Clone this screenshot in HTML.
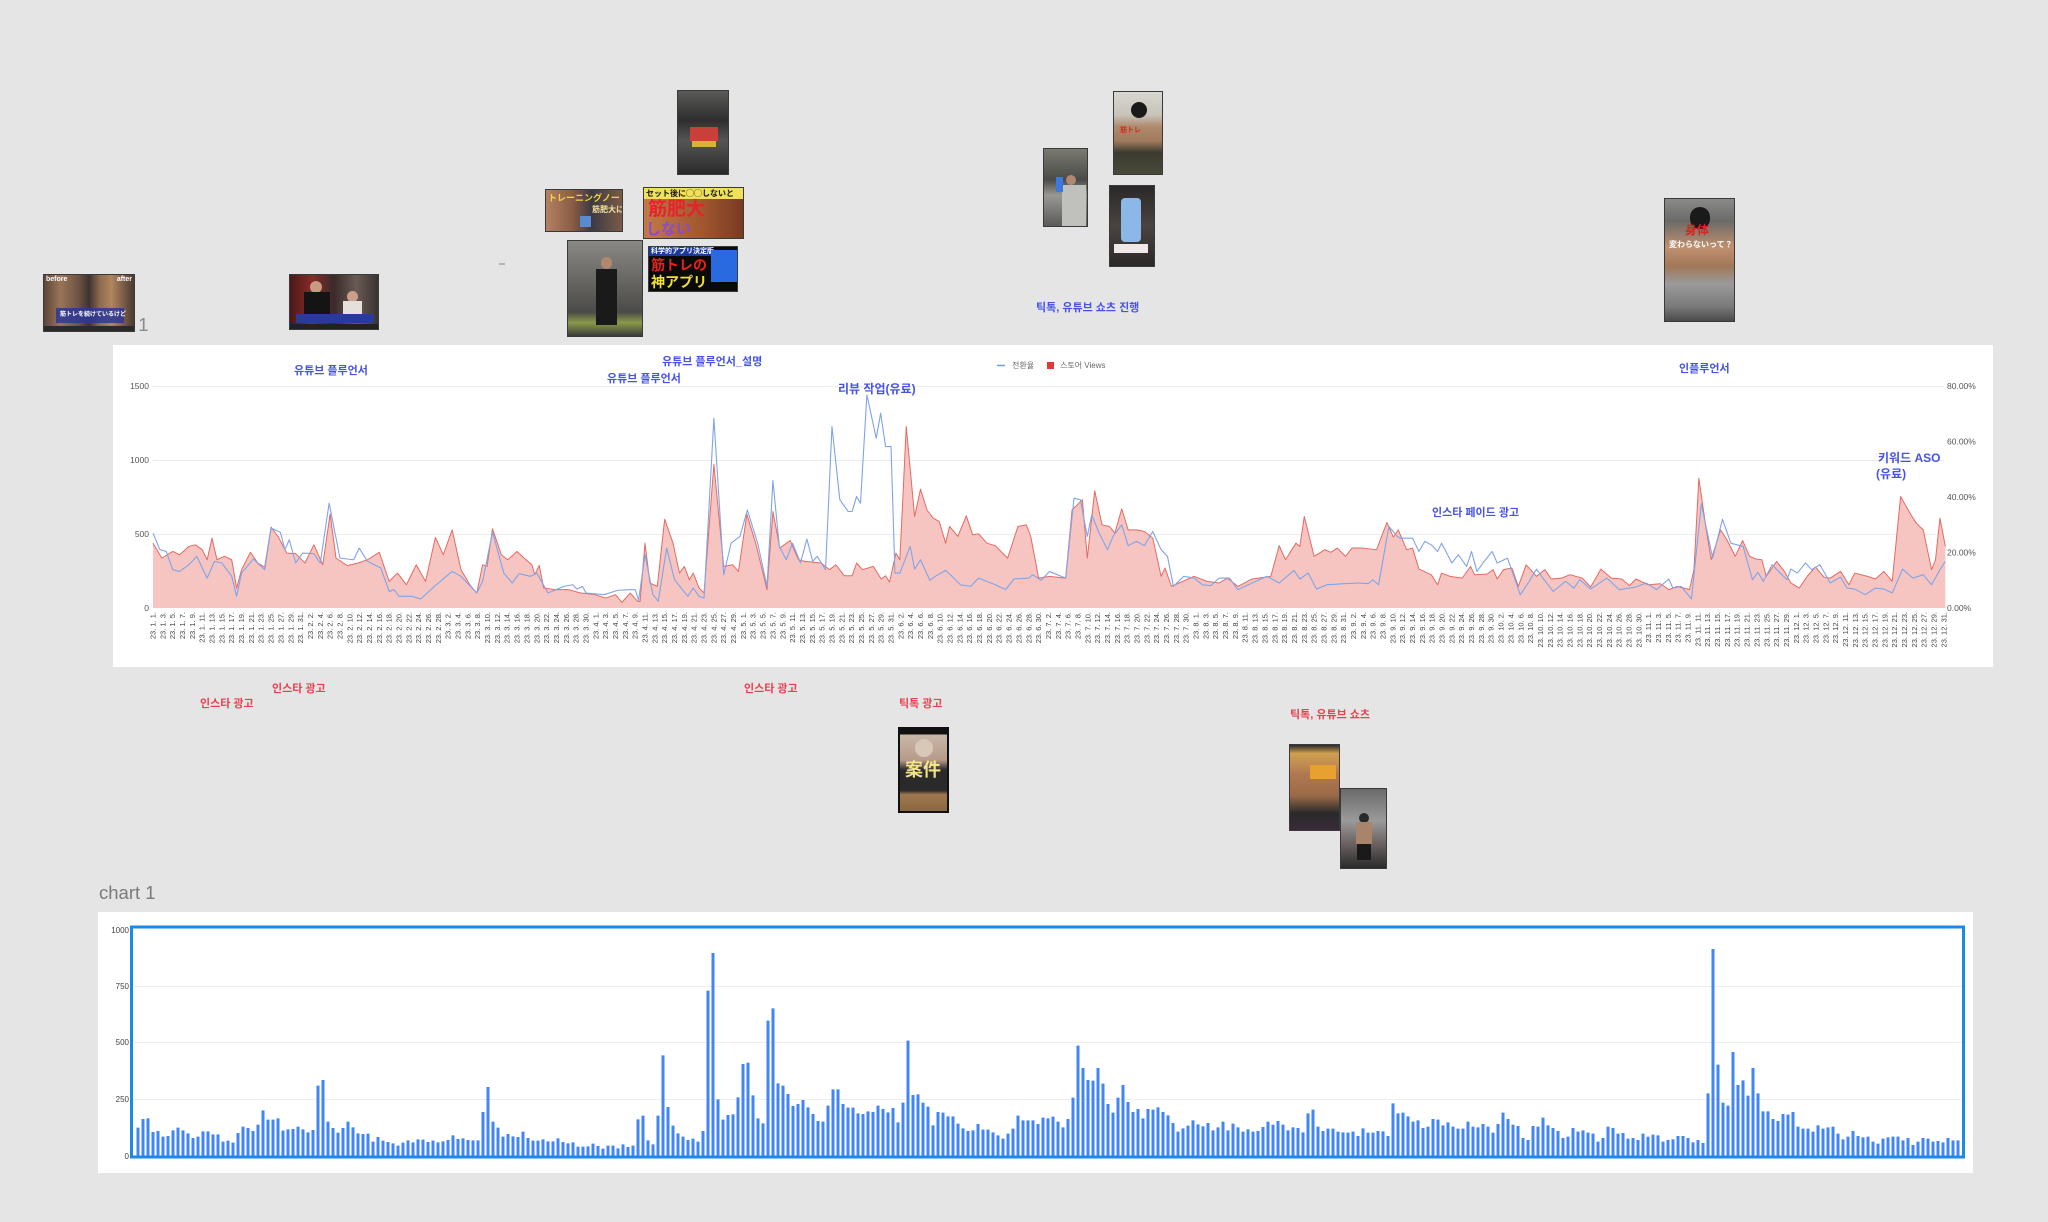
<!DOCTYPE html>
<html><head><meta charset="utf-8">
<style>
html,body{margin:0;padding:0;}
body{width:2048px;height:1222px;background:#e5e5e5;position:relative;overflow:hidden;font-family:"Liberation Sans","Noto Sans CJK KR",sans-serif;}
.a{position:absolute;white-space:nowrap;}
.b{position:absolute;white-space:nowrap;color:#4553e6;font-weight:700;font-size:11px;line-height:14px;}
.r{position:absolute;white-space:nowrap;color:#ea4050;font-weight:700;font-size:11px;line-height:14px;}
.th{position:absolute;overflow:hidden;border:1px solid #3a3a3a;box-sizing:border-box;}
.th div{position:absolute;white-space:nowrap;}
.jp{font-family:"Liberation Sans","Noto Sans CJK JP",sans-serif;font-weight:700;}
svg{position:absolute;left:0;top:0;}
</style></head><body>
<svg width="2048" height="1222" viewBox="0 0 2048 1222" xmlns="http://www.w3.org/2000/svg" font-family="Liberation Sans, Noto Sans CJK KR, sans-serif">
<!-- top chart panel -->
<rect x="113" y="345" width="1880" height="322" fill="#ffffff"/>
<g stroke="#ececec" stroke-width="1">
<line x1="153" y1="386.5" x2="1944" y2="386.5"/>
<line x1="153" y1="460.5" x2="1944" y2="460.5"/>
<line x1="153" y1="534.5" x2="1944" y2="534.5"/>
</g>
<g font-size="8.5" fill="#555" text-anchor="end">
<text x="149" y="389">1500</text><text x="149" y="463">1000</text><text x="149" y="537">500</text><text x="149" y="611">0</text>
</g>
<g font-size="8.5" fill="#555">
<text x="1947" y="389">80.00%</text><text x="1947" y="444.5">60.00%</text><text x="1947" y="500">40.00%</text><text x="1947" y="555.5">20.00%</text><text x="1947" y="611">0.00%</text>
</g>
<g transform="translate(153,608) scale(4.92,-0.148)">
<path fill="#f6c5c2" stroke="none" d="M0 0L0 438L1.8 337L4 382L5.4 360L7.3 416L8.6 427L10 394L11 326L12 472L13 326L14.5 349L16 326L17 135L18 259L19.8 376L21.3 304L22.7 277L24 547L25.4 484L27.2 371L29 367L30.9 304L32.7 427L34.5 292L36 636L37.2 337L39.5 286L41.7 304L43.6 326L46 376L48 180L49.7 236L51.5 157L53.5 292L55.4 180L57.4 477L59 360L60.8 528L62.6 259L64.4 157L65.8 101L67 292L67.9 281L69 535L70.8 360L72.1 326L74 382L75.8 326L77 292L77.6 225L78.5 288L79.4 135L81.7 124L84.4 124L87 101L89.8 90L92 67L94 90L95.3 38L97 101L98.5 45L99 45L100 438L101 169L102.5 146L104 600L105.7 438L107 236L108 281L109 191L109.8 236L111 135L112 101L114 971L116 281L117.8 292L119 247L120.7 634L122.5 438L124.8 124L126 652L127.4 405L129.5 456L131.2 326L132.5 315L135.8 304L137.5 259L138.8 292L140.5 218L142.1 218L143 304L144.2 259L146.4 281L148 196L148.9 218L149.7 175L151 371L151.8 326L153.1 1226L154.8 618L156 803L157.3 663L158.6 607L159.8 585L161.1 438L161.9 551L163.6 484L165.3 623L166.6 495L167.8 501L169.5 438L171.2 421L173.7 337L175.8 551L177.5 562L178.4 484L180 202L182.2 214L185.5 202L186.8 663L188.9 731L189.9 337L191.4 792L192.9 562L194.4 551L195.5 506L196.9 670L198.2 528L199.9 528L201.5 517L203.2 472L204.9 214L205.7 270L207 146L211.6 214L214.2 180L216.7 169L218.4 202L220.5 146L223.4 196L227.2 214L228.9 421L230.2 326L232.3 438L233.1 416L234 618L236 349L238.2 394L239.4 376L240.7 405L242.4 349L243.7 405L245.8 405L248.7 394L250.8 578L252.1 479L253.1 528L254.8 394L256 405L257.3 263L259.8 225L261.1 157L261.9 236L263.6 214L266.1 202L267.8 281L268.6 225L271.1 229L272.4 259L273.2 196L274.5 259L276.2 270L277.5 146L279.1 292L281.2 214L282.9 259L284.2 196L286.3 202L288 225L290.5 202L292.2 142L294.3 263L296.4 202L298.5 196L300.1 151L301.4 196L303.9 157L306.4 164L308.1 124L309.8 146L312.3 124L313.2 259L314.2 877L315.7 528L316.7 326L318.6 528L319.9 461L321.6 349L323.1 456L324.5 349L325.8 331L327 326L327.9 214L330 315L331.6 247L332.9 169L334.6 135L336.3 218L337.9 277L339.6 209L340.9 202L343 247L344.7 157L345.9 236L348.5 214L350.1 196L351.8 247L353.5 180L355.2 753L357.3 630L358.4 573L359.8 528L361.5 259L362.3 326L363.2 607L364.3 416L364.3 0Z"/>
<path fill="none" stroke="#e36a62" stroke-width="1" vector-effect="non-scaling-stroke" stroke-linejoin="round" d="M0 438L1.8 337L4 382L5.4 360L7.3 416L8.6 427L10 394L11 326L12 472L13 326L14.5 349L16 326L17 135L18 259L19.8 376L21.3 304L22.7 277L24 547L25.4 484L27.2 371L29 367L30.9 304L32.7 427L34.5 292L36 636L37.2 337L39.5 286L41.7 304L43.6 326L46 376L48 180L49.7 236L51.5 157L53.5 292L55.4 180L57.4 477L59 360L60.8 528L62.6 259L64.4 157L65.8 101L67 292L67.9 281L69 535L70.8 360L72.1 326L74 382L75.8 326L77 292L77.6 225L78.5 288L79.4 135L81.7 124L84.4 124L87 101L89.8 90L92 67L94 90L95.3 38L97 101L98.5 45L99 45L100 438L101 169L102.5 146L104 600L105.7 438L107 236L108 281L109 191L109.8 236L111 135L112 101L114 971L116 281L117.8 292L119 247L120.7 634L122.5 438L124.8 124L126 652L127.4 405L129.5 456L131.2 326L132.5 315L135.8 304L137.5 259L138.8 292L140.5 218L142.1 218L143 304L144.2 259L146.4 281L148 196L148.9 218L149.7 175L151 371L151.8 326L153.1 1226L154.8 618L156 803L157.3 663L158.6 607L159.8 585L161.1 438L161.9 551L163.6 484L165.3 623L166.6 495L167.8 501L169.5 438L171.2 421L173.7 337L175.8 551L177.5 562L178.4 484L180 202L182.2 214L185.5 202L186.8 663L188.9 731L189.9 337L191.4 792L192.9 562L194.4 551L195.5 506L196.9 670L198.2 528L199.9 528L201.5 517L203.2 472L204.9 214L205.7 270L207 146L211.6 214L214.2 180L216.7 169L218.4 202L220.5 146L223.4 196L227.2 214L228.9 421L230.2 326L232.3 438L233.1 416L234 618L236 349L238.2 394L239.4 376L240.7 405L242.4 349L243.7 405L245.8 405L248.7 394L250.8 578L252.1 479L253.1 528L254.8 394L256 405L257.3 263L259.8 225L261.1 157L261.9 236L263.6 214L266.1 202L267.8 281L268.6 225L271.1 229L272.4 259L273.2 196L274.5 259L276.2 270L277.5 146L279.1 292L281.2 214L282.9 259L284.2 196L286.3 202L288 225L290.5 202L292.2 142L294.3 263L296.4 202L298.5 196L300.1 151L301.4 196L303.9 157L306.4 164L308.1 124L309.8 146L312.3 124L313.2 259L314.2 877L315.7 528L316.7 326L318.6 528L319.9 461L321.6 349L323.1 456L324.5 349L325.8 331L327 326L327.9 214L330 315L331.6 247L332.9 169L334.6 135L336.3 218L337.9 277L339.6 209L340.9 202L343 247L344.7 157L345.9 236L348.5 214L350.1 196L351.8 247L353.5 180L355.2 753L357.3 630L358.4 573L359.8 528L361.5 259L362.3 326L363.2 607L364.3 416"/>
<path fill="none" stroke="#7fa4e8" stroke-width="1.1" vector-effect="non-scaling-stroke" stroke-linejoin="round" d="M0 506L1.4 394L2.7 382L4 259L5.4 247L7.3 292L8.9 349L11 202L12.5 315L14 304L16 214L17 79L18 236L20.4 331L22.7 259L24 540L25.9 511L26.8 394L27.7 461L29 304L30.4 371L32.7 367L34 304L35.8 708L38 337L40.8 326L41.9 405L43.6 315L46.3 270L48 112L49 124L50 79L52.6 79L54.4 61L57.2 146L60.8 247L62.6 214L65.8 101L67 180L69 513L71.3 236L73 169L74.4 232L76.7 214L78 236L80.3 101L83.5 146L85.3 157L86.2 128L87.3 146L88 101L91.7 90L94.4 119L96.6 124L98 124L98.7 52L100 360L101.6 90L102.7 45L104.4 405L106 191L108.7 79L109.8 135L111 79L112 67L114 1282L114.8 866L116 225L117.5 438L119.3 484L120.8 663L122.9 438L124.8 146L126 861L127.3 416L128.7 326L130 438L131.6 304L132.9 466L134.1 315L135 349L136.7 259L138 1226L139.6 731L141.3 652L142.1 652L143 753L143.8 708L145.1 1439L147 1147L147.9 1316L148.9 1091L150 1091L150.8 236L151.8 236L153.9 416L154.8 263L156 326L157.9 187L159 214L161.1 254L162.4 214L164.1 157L166.2 146L167.8 202L171.2 157L173.3 124L175 196L178 202L178.8 225L180.5 187L182.2 247L185.5 202L187.2 742L188.5 731L189.9 484L190.8 630L192.3 506L194 394L195.2 488L196.9 562L198.2 421L199.9 450L201.5 421L203.2 517L204.9 394L206.2 349L207.4 146L209.5 214L211.6 202L213.3 157L215 151L216.7 202L218.8 202L220.5 124L223.4 169L226.4 214L228.9 169L231.9 254L233.1 196L234.8 236L236.5 128L238.6 157L242 164L245.3 169L247 164L247.9 191L249.1 157L251.2 551L252.9 484L253.5 472L256 472L257.3 382L258.5 450L259.8 427L261.1 382L261.9 438L264 304L265.3 360L267 281L268 382L269.1 247L270.3 304L272.2 382L273.2 304L275.3 337L276.6 214L277.9 90L279.5 169L281.2 263L282.5 202L284.6 112L287.1 180L288.8 135L290 191L292.2 128L295.5 202L298 124L301.4 142L303.5 169L305.6 124L308.1 196L308.9 135L310.6 146L312.7 61L314.7 704L317 337L319 600L320.7 438L323.2 416L325.1 191L326.2 241L327.3 180L329.1 292L330.4 247L332.1 191L332.9 263L334.2 236L335.9 304L337.1 259L338.8 292L340.9 169L343 209L344.3 135L345.9 128L348 90L350.1 135L351.8 128L353.5 101L355.6 263L357.7 202L359.8 225L361.5 157L363.2 259L364.3 315"/>
</g>
<!-- legend -->
<line x1="997" y1="365.5" x2="1005" y2="365.5" stroke="#6d9eeb" stroke-width="1.5"/>
<text x="1012" y="368" font-size="8" fill="#666">전환율</text>
<rect x="1047" y="362" width="7" height="7" fill="#e53935"/>
<text x="1060" y="368" font-size="8" fill="#666">스토어 Views</text>
<!-- x labels -->
<g transform="translate(155.5,612) rotate(-90)" font-size="7.5" fill="#444" text-anchor="end"><text><tspan x="0" y="0">23. 1. 1.</tspan><tspan x="0" dy="9.84">23. 1. 3.</tspan><tspan x="0" dy="9.84">23. 1. 5.</tspan><tspan x="0" dy="9.84">23. 1. 7.</tspan><tspan x="0" dy="9.84">23. 1. 9.</tspan><tspan x="0" dy="9.84">23. 1. 11.</tspan><tspan x="0" dy="9.84">23. 1. 13.</tspan><tspan x="0" dy="9.84">23. 1. 15.</tspan><tspan x="0" dy="9.84">23. 1. 17.</tspan><tspan x="0" dy="9.84">23. 1. 19.</tspan><tspan x="0" dy="9.84">23. 1. 21.</tspan><tspan x="0" dy="9.84">23. 1. 23.</tspan><tspan x="0" dy="9.84">23. 1. 25.</tspan><tspan x="0" dy="9.84">23. 1. 27.</tspan><tspan x="0" dy="9.84">23. 1. 29.</tspan><tspan x="0" dy="9.84">23. 1. 31.</tspan><tspan x="0" dy="9.84">23. 2. 2.</tspan><tspan x="0" dy="9.84">23. 2. 4.</tspan><tspan x="0" dy="9.84">23. 2. 6.</tspan><tspan x="0" dy="9.84">23. 2. 8.</tspan><tspan x="0" dy="9.84">23. 2. 10.</tspan><tspan x="0" dy="9.84">23. 2. 12.</tspan><tspan x="0" dy="9.84">23. 2. 14.</tspan><tspan x="0" dy="9.84">23. 2. 16.</tspan><tspan x="0" dy="9.84">23. 2. 18.</tspan><tspan x="0" dy="9.84">23. 2. 20.</tspan><tspan x="0" dy="9.84">23. 2. 22.</tspan><tspan x="0" dy="9.84">23. 2. 24.</tspan><tspan x="0" dy="9.84">23. 2. 26.</tspan><tspan x="0" dy="9.84">23. 2. 28.</tspan><tspan x="0" dy="9.84">23. 3. 2.</tspan><tspan x="0" dy="9.84">23. 3. 4.</tspan><tspan x="0" dy="9.84">23. 3. 6.</tspan><tspan x="0" dy="9.84">23. 3. 8.</tspan><tspan x="0" dy="9.84">23. 3. 10.</tspan><tspan x="0" dy="9.84">23. 3. 12.</tspan><tspan x="0" dy="9.84">23. 3. 14.</tspan><tspan x="0" dy="9.84">23. 3. 16.</tspan><tspan x="0" dy="9.84">23. 3. 18.</tspan><tspan x="0" dy="9.84">23. 3. 20.</tspan><tspan x="0" dy="9.84">23. 3. 22.</tspan><tspan x="0" dy="9.84">23. 3. 24.</tspan><tspan x="0" dy="9.84">23. 3. 26.</tspan><tspan x="0" dy="9.84">23. 3. 28.</tspan><tspan x="0" dy="9.84">23. 3. 30.</tspan><tspan x="0" dy="9.84">23. 4. 1.</tspan><tspan x="0" dy="9.84">23. 4. 3.</tspan><tspan x="0" dy="9.84">23. 4. 5.</tspan><tspan x="0" dy="9.84">23. 4. 7.</tspan><tspan x="0" dy="9.84">23. 4. 9.</tspan><tspan x="0" dy="9.84">23. 4. 11.</tspan><tspan x="0" dy="9.84">23. 4. 13.</tspan><tspan x="0" dy="9.84">23. 4. 15.</tspan><tspan x="0" dy="9.84">23. 4. 17.</tspan><tspan x="0" dy="9.84">23. 4. 19.</tspan><tspan x="0" dy="9.84">23. 4. 21.</tspan><tspan x="0" dy="9.84">23. 4. 23.</tspan><tspan x="0" dy="9.84">23. 4. 25.</tspan><tspan x="0" dy="9.84">23. 4. 27.</tspan><tspan x="0" dy="9.84">23. 4. 29.</tspan><tspan x="0" dy="9.84">23. 5. 1.</tspan><tspan x="0" dy="9.84">23. 5. 3.</tspan><tspan x="0" dy="9.84">23. 5. 5.</tspan><tspan x="0" dy="9.84">23. 5. 7.</tspan><tspan x="0" dy="9.84">23. 5. 9.</tspan><tspan x="0" dy="9.84">23. 5. 11.</tspan><tspan x="0" dy="9.84">23. 5. 13.</tspan><tspan x="0" dy="9.84">23. 5. 15.</tspan><tspan x="0" dy="9.84">23. 5. 17.</tspan><tspan x="0" dy="9.84">23. 5. 19.</tspan><tspan x="0" dy="9.84">23. 5. 21.</tspan><tspan x="0" dy="9.84">23. 5. 23.</tspan><tspan x="0" dy="9.84">23. 5. 25.</tspan><tspan x="0" dy="9.84">23. 5. 27.</tspan><tspan x="0" dy="9.84">23. 5. 29.</tspan><tspan x="0" dy="9.84">23. 5. 31.</tspan><tspan x="0" dy="9.84">23. 6. 2.</tspan><tspan x="0" dy="9.84">23. 6. 4.</tspan><tspan x="0" dy="9.84">23. 6. 6.</tspan><tspan x="0" dy="9.84">23. 6. 8.</tspan><tspan x="0" dy="9.84">23. 6. 10.</tspan><tspan x="0" dy="9.84">23. 6. 12.</tspan><tspan x="0" dy="9.84">23. 6. 14.</tspan><tspan x="0" dy="9.84">23. 6. 16.</tspan><tspan x="0" dy="9.84">23. 6. 18.</tspan><tspan x="0" dy="9.84">23. 6. 20.</tspan><tspan x="0" dy="9.84">23. 6. 22.</tspan><tspan x="0" dy="9.84">23. 6. 24.</tspan><tspan x="0" dy="9.84">23. 6. 26.</tspan><tspan x="0" dy="9.84">23. 6. 28.</tspan><tspan x="0" dy="9.84">23. 6. 30.</tspan><tspan x="0" dy="9.84">23. 7. 2.</tspan><tspan x="0" dy="9.84">23. 7. 4.</tspan><tspan x="0" dy="9.84">23. 7. 6.</tspan><tspan x="0" dy="9.84">23. 7. 8.</tspan><tspan x="0" dy="9.84">23. 7. 10.</tspan><tspan x="0" dy="9.84">23. 7. 12.</tspan><tspan x="0" dy="9.84">23. 7. 14.</tspan><tspan x="0" dy="9.84">23. 7. 16.</tspan><tspan x="0" dy="9.84">23. 7. 18.</tspan><tspan x="0" dy="9.84">23. 7. 20.</tspan><tspan x="0" dy="9.84">23. 7. 22.</tspan><tspan x="0" dy="9.84">23. 7. 24.</tspan><tspan x="0" dy="9.84">23. 7. 26.</tspan><tspan x="0" dy="9.84">23. 7. 28.</tspan><tspan x="0" dy="9.84">23. 7. 30.</tspan><tspan x="0" dy="9.84">23. 8. 1.</tspan><tspan x="0" dy="9.84">23. 8. 3.</tspan><tspan x="0" dy="9.84">23. 8. 5.</tspan><tspan x="0" dy="9.84">23. 8. 7.</tspan><tspan x="0" dy="9.84">23. 8. 9.</tspan><tspan x="0" dy="9.84">23. 8. 11.</tspan><tspan x="0" dy="9.84">23. 8. 13.</tspan><tspan x="0" dy="9.84">23. 8. 15.</tspan><tspan x="0" dy="9.84">23. 8. 17.</tspan><tspan x="0" dy="9.84">23. 8. 19.</tspan><tspan x="0" dy="9.84">23. 8. 21.</tspan><tspan x="0" dy="9.84">23. 8. 23.</tspan><tspan x="0" dy="9.84">23. 8. 25.</tspan><tspan x="0" dy="9.84">23. 8. 27.</tspan><tspan x="0" dy="9.84">23. 8. 29.</tspan><tspan x="0" dy="9.84">23. 8. 31.</tspan><tspan x="0" dy="9.84">23. 9. 2.</tspan><tspan x="0" dy="9.84">23. 9. 4.</tspan><tspan x="0" dy="9.84">23. 9. 6.</tspan><tspan x="0" dy="9.84">23. 9. 8.</tspan><tspan x="0" dy="9.84">23. 9. 10.</tspan><tspan x="0" dy="9.84">23. 9. 12.</tspan><tspan x="0" dy="9.84">23. 9. 14.</tspan><tspan x="0" dy="9.84">23. 9. 16.</tspan><tspan x="0" dy="9.84">23. 9. 18.</tspan><tspan x="0" dy="9.84">23. 9. 20.</tspan><tspan x="0" dy="9.84">23. 9. 22.</tspan><tspan x="0" dy="9.84">23. 9. 24.</tspan><tspan x="0" dy="9.84">23. 9. 26.</tspan><tspan x="0" dy="9.84">23. 9. 28.</tspan><tspan x="0" dy="9.84">23. 9. 30.</tspan><tspan x="0" dy="9.84">23. 10. 2.</tspan><tspan x="0" dy="9.84">23. 10. 4.</tspan><tspan x="0" dy="9.84">23. 10. 6.</tspan><tspan x="0" dy="9.84">23. 10. 8.</tspan><tspan x="0" dy="9.84">23. 10. 10.</tspan><tspan x="0" dy="9.84">23. 10. 12.</tspan><tspan x="0" dy="9.84">23. 10. 14.</tspan><tspan x="0" dy="9.84">23. 10. 16.</tspan><tspan x="0" dy="9.84">23. 10. 18.</tspan><tspan x="0" dy="9.84">23. 10. 20.</tspan><tspan x="0" dy="9.84">23. 10. 22.</tspan><tspan x="0" dy="9.84">23. 10. 24.</tspan><tspan x="0" dy="9.84">23. 10. 26.</tspan><tspan x="0" dy="9.84">23. 10. 28.</tspan><tspan x="0" dy="9.84">23. 10. 30.</tspan><tspan x="0" dy="9.84">23. 11. 1.</tspan><tspan x="0" dy="9.84">23. 11. 3.</tspan><tspan x="0" dy="9.84">23. 11. 5.</tspan><tspan x="0" dy="9.84">23. 11. 7.</tspan><tspan x="0" dy="9.84">23. 11. 9.</tspan><tspan x="0" dy="9.84">23. 11. 11.</tspan><tspan x="0" dy="9.84">23. 11. 13.</tspan><tspan x="0" dy="9.84">23. 11. 15.</tspan><tspan x="0" dy="9.84">23. 11. 17.</tspan><tspan x="0" dy="9.84">23. 11. 19.</tspan><tspan x="0" dy="9.84">23. 11. 21.</tspan><tspan x="0" dy="9.84">23. 11. 23.</tspan><tspan x="0" dy="9.84">23. 11. 25.</tspan><tspan x="0" dy="9.84">23. 11. 27.</tspan><tspan x="0" dy="9.84">23. 11. 29.</tspan><tspan x="0" dy="9.84">23. 12. 1.</tspan><tspan x="0" dy="9.84">23. 12. 3.</tspan><tspan x="0" dy="9.84">23. 12. 5.</tspan><tspan x="0" dy="9.84">23. 12. 7.</tspan><tspan x="0" dy="9.84">23. 12. 9.</tspan><tspan x="0" dy="9.84">23. 12. 11.</tspan><tspan x="0" dy="9.84">23. 12. 13.</tspan><tspan x="0" dy="9.84">23. 12. 15.</tspan><tspan x="0" dy="9.84">23. 12. 17.</tspan><tspan x="0" dy="9.84">23. 12. 19.</tspan><tspan x="0" dy="9.84">23. 12. 21.</tspan><tspan x="0" dy="9.84">23. 12. 23.</tspan><tspan x="0" dy="9.84">23. 12. 25.</tspan><tspan x="0" dy="9.84">23. 12. 27.</tspan><tspan x="0" dy="9.84">23. 12. 29.</tspan><tspan x="0" dy="9.84">23. 12. 31.</tspan></text></g>

<!-- bottom chart panel -->
<rect x="98" y="912" width="1875" height="261" fill="#ffffff"/>
<g stroke="#eeeeee" stroke-width="1">
<line x1="133" y1="986.5" x2="1962" y2="986.5"/>
<line x1="133" y1="1042.5" x2="1962" y2="1042.5"/>
<line x1="133" y1="1099.5" x2="1962" y2="1099.5"/>
</g>
<g font-size="8" fill="#444" text-anchor="end">
<text x="129" y="933">1000</text><text x="129" y="989">750</text><text x="129" y="1045">500</text><text x="129" y="1102">250</text><text x="129" y="1159">0</text>
</g>
<g transform="translate(138,870) scale(5,0.333333)">
<path fill="none" stroke="#4285f4" stroke-width="3" vector-effect="non-scaling-stroke" d="M0 858V773M1 858V747M2 858V745M3 858V786M4 858V783M5 858V800M6 858V798M7 858V781M8 858V773M9 858V781M10 858V790M11 858V804M12 858V800M13 858V784M14 858V784M15 858V793M16 858V793M17 858V815M18 858V812M19 858V818M20 858V789M21 858V770M22 858V774M23 858V783M24 858V764M25 858V721M26 858V749M27 858V749M28 858V745M29 858V782M30 858V778M31 858V777M32 858V770M33 858V778M34 858V787M35 858V780M36 858V647M37 858V630M38 858V755M39 858V774M40 858V788M41 858V774M42 858V755M43 858V772M44 858V790M45 858V792M46 858V791M47 858V815M48 858V801M49 858V812M50 858V816M51 858V820M52 858V827M53 858V818M54 858V811M55 858V817M56 858V808M57 858V809M58 858V816M59 858V812M60 858V817M61 858V814M62 858V810M63 858V796M64 858V807M65 858V805M66 858V810M67 858V811M68 858V811M69 858V726M70 858V651M71 858V755M72 858V773M73 858V800M74 858V792M75 858V799M76 858V801M77 858V785M78 858V804M79 858V812M80 858V812M81 858V808M82 858V814M83 858V814M84 858V805M85 858V816M86 858V820M87 858V817M88 858V830M89 858V830M90 858V829M91 858V821M92 858V828M93 858V836M94 858V827M95 858V827M96 858V835M97 858V823M98 858V831M99 858V827M100 858V748M101 858V737M102 858V811M103 858V823M104 858V737M105 858V556M106 858V711M107 858V767M108 858V790M109 858V800M110 858V810M111 858V806M112 858V815M113 858V783M114 858V362M115 858V249M116 858V688M117 858V749M118 858V735M119 858V733M120 858V682M121 858V582M122 858V578M123 858V676M124 858V745M125 858V760M126 858V452M127 858V415M128 858V640"/>
</g>
<g transform="translate(138,920) scale(5,0.333333)">
<path fill="none" stroke="#4285f4" stroke-width="3" vector-effect="non-scaling-stroke" d="M129 708V497M130 708V522M131 708V558M132 708V552M133 708V540M134 708V562M135 708V582M136 708V603M137 708V605M138 708V557M139 708V508M140 708V508M141 708V552M142 708V563M143 708V563M144 708V580M145 708V582M146 708V574M147 708V576M148 708V557M149 708V567M150 708V577M151 708V564M152 708V607M153 708V548M154 708V362M155 708V525M156 708V523M157 708V548M158 708V560M159 708V616M160 708V576M161 708V578M162 708V589M163 708V589M164 708V611M165 708V625M166 708V633M167 708V631M168 708V612M169 708V629M170 708V629M171 708V637M172 708V646M173 708V656M174 708V641M175 708V626M176 708V587M177 708V601M178 708V601M179 708V601M180 708V612M181 708V593M182 708V595M183 708V590M184 708V605M185 708V622M186 708V597M187 708V533M188 708V377M189 708V444M190 708V480M191 708V482M192 708V444M193 708V491M194 708V552M195 708V578M196 708V533M197 708V495M198 708V546M199 708V576M200 708V567M201 708V595M202 708V567M203 708V569M204 708V562M205 708V576M206 708V586M207 708V609M208 708V635M209 708V625M210 708V617M211 708V601M212 708V613M213 708V619M214 708V609M215 708V631M216 708V622M217 708V605M218 708V631M219 708V611M220 708V622M221 708V635M222 708V628M223 708V635M224 708V633M225 708V621M226 708V605M227 708V614M228 708V603M229 708V614M230 708V631M231 708V622M232 708V624M233 708V637M234 708V580M235 708V569M236 708V620M237 708V633M238 708V626M239 708V626M240 708V635M241 708V637M242 708V638M243 708V635M244 708V648M245 708V625M246 708V638M247 708V638M248 708V633M249 708V634M250 708V648M251 708V550M252 708V580M253 708V578M254 708V589M255 708V605M256 708V601M257 708V624M258 708V620M259 708V597M260 708V599M261 708V616M262 708V607M263 708V620M264 708V626M265 708V626M266 708V605M267 708V620M268 708V622M269 708V612M270 708V620M271 708V638M272 708V612M273 708V578M274 708V597M275 708V614M276 708V618M277 708V654M278 708V660M279 708V618M280 708V620M281 708V593M282 708V616M283 708V624M284 708V633M285 708V654M286 708V650M287 708V624M288 708V635M289 708V631M290 708V638M291 708V641M292 708V665M293 708V654M294 708V620M295 708V624M296 708V641M297 708V639M298 708V656M299 708V654M300 708V660M301 708V641M302 708V650M303 708V644M304 708V646M305 708V665M306 708V660M307 708V658M308 708V648M309 708V648M310 708V654M311 708V667M312 708V660M313 708V669M314 708V520M315 708V87M316 708V434M317 708V548M318 708V557M319 708V396M320 708V495M321 708V481M322 708V527M323 708V444M324 708V520M325 708V574M326 708V574M327 708V597M328 708V603M329 708V582M330 708V584M331 708V576M332 708V620M333 708V626M334 708V626M335 708V635M336 708V616M337 708V626M338 708V622M339 708V620M340 708V641M341 708V658M342 708V650M343 708V633M344 708V648M345 708V652M346 708V650M347 708V665M348 708V671M349 708V656M350 708V652M351 708V650M352 708V650M353 708V661M354 708V654M355 708V675M356 708V665M357 708V654M358 708V656M359 708V665M360 708V663M361 708V667M362 708V654M363 708V661M364 708V661"/>
</g>
<rect x="131.5" y="927" width="1832" height="230" fill="none" stroke="#1e88e5" stroke-width="3"/>
<line x1="499" y1="264" x2="505" y2="264" stroke="#888" stroke-width="1"/>
</svg>

<!-- chart titles -->
<div class="a" style="left:92px;top:314px;font-size:18.5px;line-height:22px;color:#8a8a8a;">chart 1</div>
<div class="a" style="left:99px;top:882px;font-size:18.5px;line-height:22px;color:#7a7a7a;">chart 1</div>

<!-- blue annotations -->
<div class="b" style="left:294px;top:364px;">유튜브 플루언서</div>
<div class="b" style="left:662px;top:355px;">유튜브 플루언서_설명</div>
<div class="b" style="left:607px;top:372px;">유튜브 플루언서</div>
<div class="b" style="left:838px;top:382px;font-size:12px;">리뷰 작업(유료)</div>
<div class="b" style="left:1679px;top:362px;">인플루언서</div>
<div class="b" style="left:1432px;top:506px;">인스타 페이드 광고</div>
<div class="b" style="left:1878px;top:451px;font-size:12px;">키워드 ASO</div>
<div class="b" style="left:1876px;top:467px;font-size:12px;">(유료)</div>
<div class="b" style="left:1036px;top:301px;">틱톡, 유튜브 쇼츠 진행</div>

<!-- red annotations -->
<div class="r" style="left:200px;top:697px;">인스타 광고</div>
<div class="r" style="left:272px;top:682px;">인스타 광고</div>
<div class="r" style="left:744px;top:682px;">인스타 광고</div>
<div class="r" style="left:899px;top:697px;">틱톡 광고</div>
<div class="r" style="left:1290px;top:708px;">틱톡, 유튜브 쇼츠</div>

<!-- thumbnails -->
<div class="th" style="left:43px;top:274px;width:92px;height:58px;background:linear-gradient(90deg,#5a4638 0%,#9a7458 18%,#6e5444 38%,#3e3430 50%,#8e6a4e 62%,#b0845e 75%,#4a3a30 100%);">
 <div style="left:2px;top:1px;font-size:7px;color:#fff;font-weight:700;">before</div>
 <div style="right:2px;top:1px;font-size:7px;color:#fff;font-weight:700;">after</div>
 <div style="left:12px;top:33px;width:68px;height:15px;background:rgba(45,55,150,.85);"></div>
 <div class="jp" style="left:16px;top:34px;font-size:6px;color:#fff;">筋トレを続けているけど</div>
 <div style="left:0;top:51px;width:92px;height:7px;background:#2a2a2a;"></div>
</div>
<div class="th" style="left:289px;top:274px;width:90px;height:56px;background:linear-gradient(90deg,#4a1a1a 0%,#8a2a28 25%,#3a2a2a 50%,#6a5a54 75%,#3a3430 100%);">
 <div style="left:20px;top:6px;width:12px;height:12px;border-radius:6px;background:#c89a80;"></div>
 <div style="left:14px;top:17px;width:26px;height:28px;background:#141414;"></div>
 <div style="left:57px;top:16px;width:11px;height:11px;border-radius:6px;background:#caa08a;"></div>
 <div style="left:53px;top:26px;width:19px;height:20px;background:#e6e0dc;"></div>
 <div style="left:6px;top:39px;width:78px;height:9px;background:#2a3a9a;"></div>
 <div style="left:0;top:49px;width:90px;height:7px;background:#222;"></div>
</div>
<div class="th" style="left:677px;top:90px;width:52px;height:85px;background:linear-gradient(180deg,#5a5a58 0%,#2e2e2e 35%,#555 60%,#2a2a2a 100%);">
 <div style="left:12px;top:36px;width:28px;height:14px;background:#c8403a;"></div>
 <div style="left:14px;top:50px;width:24px;height:6px;background:#d8b040;"></div>
</div>
<div class="th" style="left:545px;top:189px;width:78px;height:43px;background:linear-gradient(90deg,#b38264 0%,#8a5c44 35%,#3c3a44 60%,#7a5a48 100%);">
 <div class="jp" style="left:2px;top:1px;font-size:9px;color:#f3d23a;">トレーニングノート</div>
 <div class="jp" style="left:46px;top:14px;font-size:8px;color:#f3e0a0;">筋肥大に</div>
 <div style="left:34px;top:26px;width:11px;height:11px;background:#5a8ad0;"></div>
</div>
<div class="th" style="left:643px;top:187px;width:101px;height:52px;background:linear-gradient(90deg,#c27a4a,#a0562e 60%,#7a3a22);">
 <div style="left:0;top:0;width:101px;height:11px;background:#efe25a;"></div>
 <div class="jp" style="left:2px;top:0px;font-size:8px;line-height:11px;color:#111;">セット後に◯◯しないと</div>
 <div class="jp" style="left:4px;top:11px;font-size:19px;line-height:22px;color:#e8222a;">筋肥大</div>
 <div class="jp" style="left:2px;top:33px;font-size:15px;line-height:18px;color:#8a4ad0;">しない</div>
</div>
<div class="th" style="left:567px;top:240px;width:76px;height:97px;background:linear-gradient(180deg,#8a8884 0%,#6a6864 40%,#4a4a48 75%,#8a9a4a 86%,#3a3a3a 100%);">
 <div style="left:33px;top:16px;width:11px;height:12px;border-radius:6px;background:#b08870;"></div>
 <div style="left:28px;top:28px;width:21px;height:56px;background:#1a1a1a;"></div>
</div>
<div class="th" style="left:648px;top:246px;width:90px;height:46px;background:#0a0a0a;">
 <div style="left:0;top:0;width:62px;height:9px;background:#1a3aa0;"></div>
 <div class="jp" style="left:2px;top:0px;font-size:7px;line-height:9px;color:#fff;">科学的アプリ決定版</div>
 <div style="left:62px;top:3px;width:26px;height:32px;background:#2a6ae0;"></div>
 <div class="jp" style="left:2px;top:10px;font-size:14px;line-height:17px;color:#e82020;">筋トレの</div>
 <div class="jp" style="left:2px;top:27px;font-size:14px;line-height:17px;color:#f0e030;">神アプリ</div>
</div>
<div class="th" style="left:1043px;top:148px;width:45px;height:79px;background:linear-gradient(180deg,#7a7a70,#4a4a48 40%,#9a9894 60%,#5a5a5a);">
 <div style="left:22px;top:26px;width:10px;height:10px;border-radius:5px;background:#b08a70;"></div>
 <div style="left:18px;top:36px;width:24px;height:43px;background:#c0c0bc;"></div>
 <div style="left:12px;top:28px;width:7px;height:15px;background:#3a7ae0;"></div>
</div>
<div class="th" style="left:1113px;top:91px;width:50px;height:84px;background:linear-gradient(180deg,#d8d6d0 0%,#c8c4bc 28%,#b08a6c 42%,#a07a5c 60%,#3a3a30 74%,#4a4a3a 100%);">
 <div style="left:17px;top:10px;width:16px;height:16px;border-radius:8px;background:#1a1a1a;"></div>
 <div class="jp" style="left:6px;top:33px;font-size:7px;color:#e02020;">筋トレ</div>
</div>
<div class="th" style="left:1109px;top:185px;width:46px;height:82px;background:linear-gradient(180deg,#2a2828,#4a4440 50%,#2a2828);">
 <div style="left:11px;top:12px;width:20px;height:44px;border-radius:4px;background:#8cb8e8;"></div>
 <div style="left:4px;top:58px;width:34px;height:9px;background:#f0e8e8;"></div>
</div>
<div class="th" style="left:1664px;top:198px;width:71px;height:124px;background:linear-gradient(180deg,#8a8a88 0%,#6a6a68 18%,#c09070 40%,#a07858 55%,#9a9a9c 70%,#7a7a7a 88%,#4a4a4a 100%);">
 <div style="left:25px;top:8px;width:20px;height:22px;border-radius:10px;background:#1a1a1a;"></div>
 <div class="jp" style="left:20px;top:22px;font-size:12px;color:#e02020;">身体</div>
 <div class="jp" style="left:4px;top:40px;font-size:8px;color:#fff;">変わらないって？</div>
</div>
<div class="th" style="left:898px;top:727px;width:51px;height:86px;border:2px solid #111;background:linear-gradient(180deg,#111 0,#111 7%,#c8b8a8 7%,#b89a88 38%,#2a2a2a 50%,#2a2a2a 75%,#a07850 80%,#8a6840 100%);">
 <div style="left:15px;top:10px;width:18px;height:18px;border-radius:9px;background:#d8c8b8;"></div>
 <div class="jp" style="left:5px;top:30px;font-size:18px;line-height:22px;color:#f3e48a;">案件</div>
</div>
<div class="th" style="left:1289px;top:744px;width:51px;height:87px;background:linear-gradient(180deg,#2a2a2a 0%,#d0a050 10%,#b07850 35%,#9a6a48 60%,#2a2a2a 80%,#3a2a3a 100%);">
 <div style="left:20px;top:20px;width:26px;height:14px;background:#e8a030;"></div>
</div>
<div class="th" style="left:1340px;top:788px;width:47px;height:81px;background:linear-gradient(180deg,#6a6a6a,#9a9a9a 40%,#6a6060 70%,#2a2a2a 100%);">
 <div style="left:18px;top:24px;width:10px;height:10px;border-radius:5px;background:#2a2a2a;"></div>
 <div style="left:15px;top:33px;width:16px;height:22px;background:#a8846a;"></div>
 <div style="left:16px;top:55px;width:14px;height:16px;background:#1a1a1a;"></div>
</div>
</body></html>
